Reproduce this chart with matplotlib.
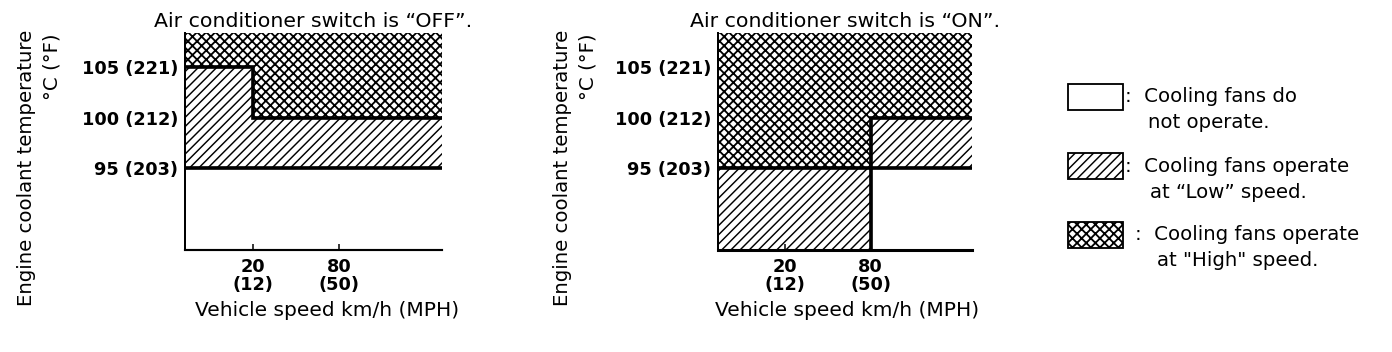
import matplotlib
matplotlib.use("Agg")
import matplotlib.pyplot as plt
from matplotlib.patches import Rectangle

# values
TEMP_TICKS = [95, 100, 105]
TEMP_LABELS = ["95 (203)", "100 (212)", "105 (221)"]
SPEED_TICKS = [20, 80]
SPEED_LABELS = ["20\n(12)", "80\n(50)"]

# A/C OFF: speed split at 20 km/h, fan stage start temps (below / above split)
OFF_SPLIT = 20
OFF_LOW_START = [95, 95]
OFF_HIGH_START = [105, 100]

# A/C ON: speed split at 80 km/h, low fans always run below it (0 = always)
ON_SPLIT = 80
ON_LOW_START = [0, 95]
ON_HIGH_START = [95, 100]

TITLES = ["Air conditioner switch is \u201cOFF\u201d.", "Air conditioner switch is \u201cON\u201d."]
YLABEL = "Engine coolant temperature"
YUNIT = "\u00b0C (\u00b0F)"
XLABEL = "Vehicle speed km/h (MPH)"

LOW_HATCH = "////"
HIGH_HATCH = "xxxx"
LEGEND_HATCH = ["", LOW_HATCH, HIGH_HATCH]
LEGEND_LINE1 = [":  Cooling fans do", ":  Cooling fans operate", ":  Cooling fans operate"]
LEGEND_LINE2 = ["not operate.", "at \u201cLow\u201d speed.", "at \"High\" speed."]

# layout (pixels)
DPI = 110
W, H = 1392, 352
XLIM = (-27, 151)
YLIM = (87, 108.3)
FS = 12.9
FS_BOLD = 11.6
HATCH_LW = {"": 1.0, LOW_HATCH: 0.95, HIGH_HATCH: 1.2}

plt.rcParams["hatch.color"] = "black"

fig = plt.figure(figsize=(W / DPI, H / DPI), dpi=DPI)


def px_axes(x0, y0, x1, y1):
    return fig.add_axes([x0 / W, 1 - y1 / H, (x1 - x0) / W, (y1 - y0) / H])


def hatched(artist, hatch):
    if hasattr(artist, "set_hatch_linewidth"):
        artist.set_hatch_linewidth(HATCH_LW[hatch])
    return artist


def draw_panel(ax, split, low_start, high_start, title, bottom_lw, xlabel_x):
    edges = [XLIM[0], split, XLIM[1]]
    top = [YLIM[1], YLIM[1]]
    for vals, base, hatch in [(high_start, low_start, LOW_HATCH), (top, high_start, HIGH_HATCH)]:
        with plt.rc_context({"hatch.linewidth": HATCH_LW[hatch]}):
            p = ax.stairs(vals, edges, baseline=base, fill=True, facecolor="white",
                          edgecolor="black", hatch=hatch, linewidth=0)
        hatched(p, hatch)
    ax.stairs(low_start, edges, baseline=None, color="black", linewidth=2.4)
    ax.stairs(high_start, edges, baseline=None, color="black", linewidth=2.4)

    ax.set_xlim(XLIM)
    ax.set_ylim(YLIM)
    for s in ["top", "right"]:
        ax.spines[s].set_visible(False)
    ax.spines["left"].set_linewidth(1.3)
    ax.spines["bottom"].set_linewidth(bottom_lw)

    ax.set_xticks(SPEED_TICKS, SPEED_LABELS, fontsize=FS_BOLD, fontweight="bold")
    ax.set_yticks(TEMP_TICKS, TEMP_LABELS, fontsize=FS_BOLD, fontweight="bold")
    for lbl in ax.get_xticklabels():
        lbl.set_linespacing(1.0)
    ax.tick_params(axis="x", direction="in", length=4, width=1, pad=5)
    ax.tick_params(axis="y", length=0, pad=4.6)

    ax.set_title(title, fontsize=13.4, pad=4)
    ax.set_xlabel(XLABEL, fontsize=13.2, va="top")
    ax.xaxis.set_label_coords(xlabel_x, -0.235)


ax1 = px_axes(185, 33, 442, 250)
draw_panel(ax1, OFF_SPLIT, OFF_LOW_START, OFF_HIGH_START, TITLES[0], 1.4, 0.554)
ax2 = px_axes(718, 33, 972, 250)
draw_panel(ax2, ON_SPLIT, ON_LOW_START, ON_HIGH_START, TITLES[1], 2.0, 0.51)

# y labels: two rotated lines, the unit line top-aligned
for xl, xu in [(27, 52), (563, 588)]:
    fig.text(xl / W, 1 - 168 / H, YLABEL, rotation=90, ha="center", va="center", fontsize=FS)
    fig.text(xu / W, 1 - 33 / H, YUNIT, rotation=90, ha="center", va="top", fontsize=FS)

# legend drawn in pixel space
lax = fig.add_axes([0, 0, 1, 1])
lax.set_xlim(0, W)
lax.set_ylim(H, 0)
lax.axis("off")
line1_x = [1125, 1125, 1135]
line2_x = [1148, 1150, 1157]
for i, (hatch, t1, t2) in enumerate(zip(LEGEND_HATCH, LEGEND_LINE1, LEGEND_LINE2)):
    top = 84 + i * 69
    with plt.rc_context({"hatch.linewidth": HATCH_LW[hatch]}):
        r = Rectangle((1068, top), 55, 26, facecolor="white", edgecolor="black",
                      hatch=hatch, linewidth=1.2)
    lax.add_patch(hatched(r, hatch))
    lax.text(line1_x[i], top + 13, t1, ha="left", va="center", fontsize=FS)
    lax.text(line2_x[i], top + 39, t2, ha="left", va="center", fontsize=FS)

fig.savefig("out.png", dpi=DPI)
